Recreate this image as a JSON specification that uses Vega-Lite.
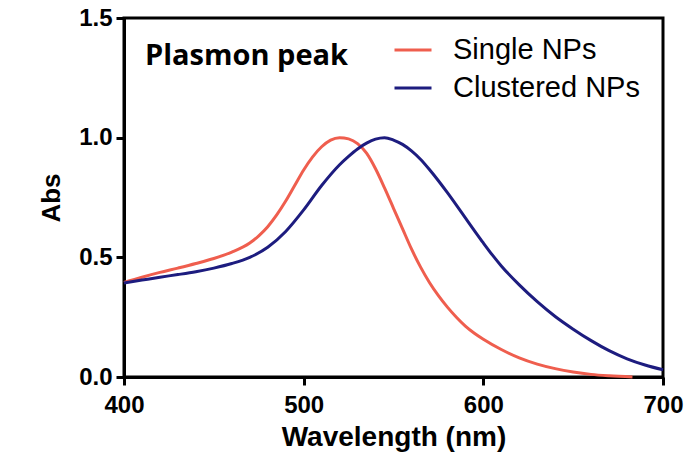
{
"$schema": "https://vega.github.io/schema/vega-lite/v6.json",
"width": 539, "height": 359,
"autosize": {"type": "none"},
"padding": {"left": 124, "top": 18, "right": 29, "bottom": 92},
"background": "white",
"config": {"view": {"stroke": "black", "strokeWidth": 3}, "font": "Liberation Sans"},
"layer": [
{
"data": {"values": [
{"series":"Single NPs","wavelength":400,"abs":0.395},
{"series":"Single NPs","wavelength":410,"abs":0.417},
{"series":"Single NPs","wavelength":420,"abs":0.437},
{"series":"Single NPs","wavelength":430,"abs":0.455},
{"series":"Single NPs","wavelength":440,"abs":0.474},
{"series":"Single NPs","wavelength":450,"abs":0.495},
{"series":"Single NPs","wavelength":460,"abs":0.522},
{"series":"Single NPs","wavelength":470,"abs":0.56},
{"series":"Single NPs","wavelength":475,"abs":0.59},
{"series":"Single NPs","wavelength":480,"abs":0.628},
{"series":"Single NPs","wavelength":485,"abs":0.677},
{"series":"Single NPs","wavelength":490,"abs":0.735},
{"series":"Single NPs","wavelength":495,"abs":0.80},
{"series":"Single NPs","wavelength":500,"abs":0.865},
{"series":"Single NPs","wavelength":505,"abs":0.92},
{"series":"Single NPs","wavelength":510,"abs":0.962},
{"series":"Single NPs","wavelength":515,"abs":0.99},
{"series":"Single NPs","wavelength":520,"abs":1.0},
{"series":"Single NPs","wavelength":525,"abs":0.995},
{"series":"Single NPs","wavelength":530,"abs":0.975},
{"series":"Single NPs","wavelength":535,"abs":0.935},
{"series":"Single NPs","wavelength":540,"abs":0.87},
{"series":"Single NPs","wavelength":545,"abs":0.79},
{"series":"Single NPs","wavelength":550,"abs":0.705},
{"series":"Single NPs","wavelength":555,"abs":0.62},
{"series":"Single NPs","wavelength":560,"abs":0.535},
{"series":"Single NPs","wavelength":565,"abs":0.46},
{"series":"Single NPs","wavelength":570,"abs":0.395},
{"series":"Single NPs","wavelength":575,"abs":0.34},
{"series":"Single NPs","wavelength":580,"abs":0.292},
{"series":"Single NPs","wavelength":585,"abs":0.25},
{"series":"Single NPs","wavelength":590,"abs":0.213},
{"series":"Single NPs","wavelength":595,"abs":0.183},
{"series":"Single NPs","wavelength":600,"abs":0.158},
{"series":"Single NPs","wavelength":610,"abs":0.115},
{"series":"Single NPs","wavelength":620,"abs":0.08},
{"series":"Single NPs","wavelength":630,"abs":0.054},
{"series":"Single NPs","wavelength":640,"abs":0.035},
{"series":"Single NPs","wavelength":650,"abs":0.021},
{"series":"Single NPs","wavelength":660,"abs":0.011},
{"series":"Single NPs","wavelength":670,"abs":0.005},
{"series":"Single NPs","wavelength":683,"abs":0.0},
{"series":"Clustered NPs","wavelength":400,"abs":0.393},
{"series":"Clustered NPs","wavelength":410,"abs":0.405},
{"series":"Clustered NPs","wavelength":420,"abs":0.417},
{"series":"Clustered NPs","wavelength":430,"abs":0.428},
{"series":"Clustered NPs","wavelength":440,"abs":0.44},
{"series":"Clustered NPs","wavelength":450,"abs":0.455},
{"series":"Clustered NPs","wavelength":460,"abs":0.474},
{"series":"Clustered NPs","wavelength":470,"abs":0.50},
{"series":"Clustered NPs","wavelength":480,"abs":0.542},
{"series":"Clustered NPs","wavelength":490,"abs":0.608},
{"series":"Clustered NPs","wavelength":500,"abs":0.698},
{"series":"Clustered NPs","wavelength":510,"abs":0.80},
{"series":"Clustered NPs","wavelength":520,"abs":0.887},
{"series":"Clustered NPs","wavelength":525,"abs":0.922},
{"series":"Clustered NPs","wavelength":530,"abs":0.953},
{"series":"Clustered NPs","wavelength":535,"abs":0.977},
{"series":"Clustered NPs","wavelength":540,"abs":0.994},
{"series":"Clustered NPs","wavelength":545,"abs":1.0},
{"series":"Clustered NPs","wavelength":550,"abs":0.99},
{"series":"Clustered NPs","wavelength":555,"abs":0.972},
{"series":"Clustered NPs","wavelength":560,"abs":0.945},
{"series":"Clustered NPs","wavelength":565,"abs":0.91},
{"series":"Clustered NPs","wavelength":570,"abs":0.867},
{"series":"Clustered NPs","wavelength":575,"abs":0.82},
{"series":"Clustered NPs","wavelength":580,"abs":0.77},
{"series":"Clustered NPs","wavelength":585,"abs":0.718},
{"series":"Clustered NPs","wavelength":590,"abs":0.665},
{"series":"Clustered NPs","wavelength":595,"abs":0.612},
{"series":"Clustered NPs","wavelength":600,"abs":0.56},
{"series":"Clustered NPs","wavelength":605,"abs":0.51},
{"series":"Clustered NPs","wavelength":610,"abs":0.464},
{"series":"Clustered NPs","wavelength":620,"abs":0.385},
{"series":"Clustered NPs","wavelength":630,"abs":0.315},
{"series":"Clustered NPs","wavelength":640,"abs":0.253},
{"series":"Clustered NPs","wavelength":650,"abs":0.2},
{"series":"Clustered NPs","wavelength":660,"abs":0.152},
{"series":"Clustered NPs","wavelength":670,"abs":0.11},
{"series":"Clustered NPs","wavelength":680,"abs":0.076},
{"series":"Clustered NPs","wavelength":690,"abs":0.05},
{"series":"Clustered NPs","wavelength":700,"abs":0.03}
]},
"mark": {"type": "line", "strokeWidth": 3, "interpolate": "monotone"},
"encoding": {
"x": {"field": "wavelength", "type": "quantitative", "scale": {"domain": [400, 700], "nice": false},
 "axis": {"values": [400, 500, 600, 700], "grid": false, "title": "Wavelength (nm)", "labelFlush": false,
 "labelFont": "Liberation Sans", "labelFontWeight": "bold", "labelFontSize": 24, "labelColor": "black", "labelPadding": 8,
 "tickColor": "black", "tickWidth": 3, "tickSize": 8, "domainColor": "black", "domainWidth": 3,
 "titleFont": "Liberation Sans", "titleFontWeight": "bold", "titleFontSize": 28, "titleColor": "black", "titlePadding": 6}},
"y": {"field": "abs", "type": "quantitative", "scale": {"domain": [0, 1.5], "nice": false},
 "axis": {"values": [0, 0.5, 1, 1.5], "format": ".1f", "grid": false, "title": "Abs", "labelFlush": false,
 "labelFont": "Liberation Sans", "labelFontWeight": "bold", "labelFontSize": 24, "labelColor": "black", "labelPadding": 4,
 "tickColor": "black", "tickWidth": 3, "tickSize": 8, "domainColor": "black", "domainWidth": 3,
 "titleFont": "Liberation Sans", "titleFontWeight": "bold", "titleFontSize": 26, "titleColor": "black", "titlePadding": 14}},
"color": {"field": "series", "type": "nominal",
 "scale": {"domain": ["Single NPs", "Clustered NPs"], "range": ["#ef5e4e", "#1d1c7f"]},
 "legend": {"orient": "none", "legendX": 269, "legendY": 12, "title": null, "symbolType": "stroke",
 "symbolSize": 1369, "symbolStrokeWidth": 3, "labelFont": "Liberation Sans", "labelFontSize": 29, "labelColor": "black",
 "labelOffset": 20, "labelLimit": 400, "rowPadding": 3, "padding": 0}}
}
},
{
"data": {"values": [{"label": "Plasmon peak", "x": 411.7, "y": 1.304}]},
"mark": {"type": "text", "font": "Open Sans", "fontWeight": "bold", "fontSize": 29, "align": "left", "baseline": "alphabetic", "color": "black"},
"encoding": {
"x": {"field": "x", "type": "quantitative"},
"y": {"field": "y", "type": "quantitative"},
"text": {"field": "label"}
}
}
]
}
